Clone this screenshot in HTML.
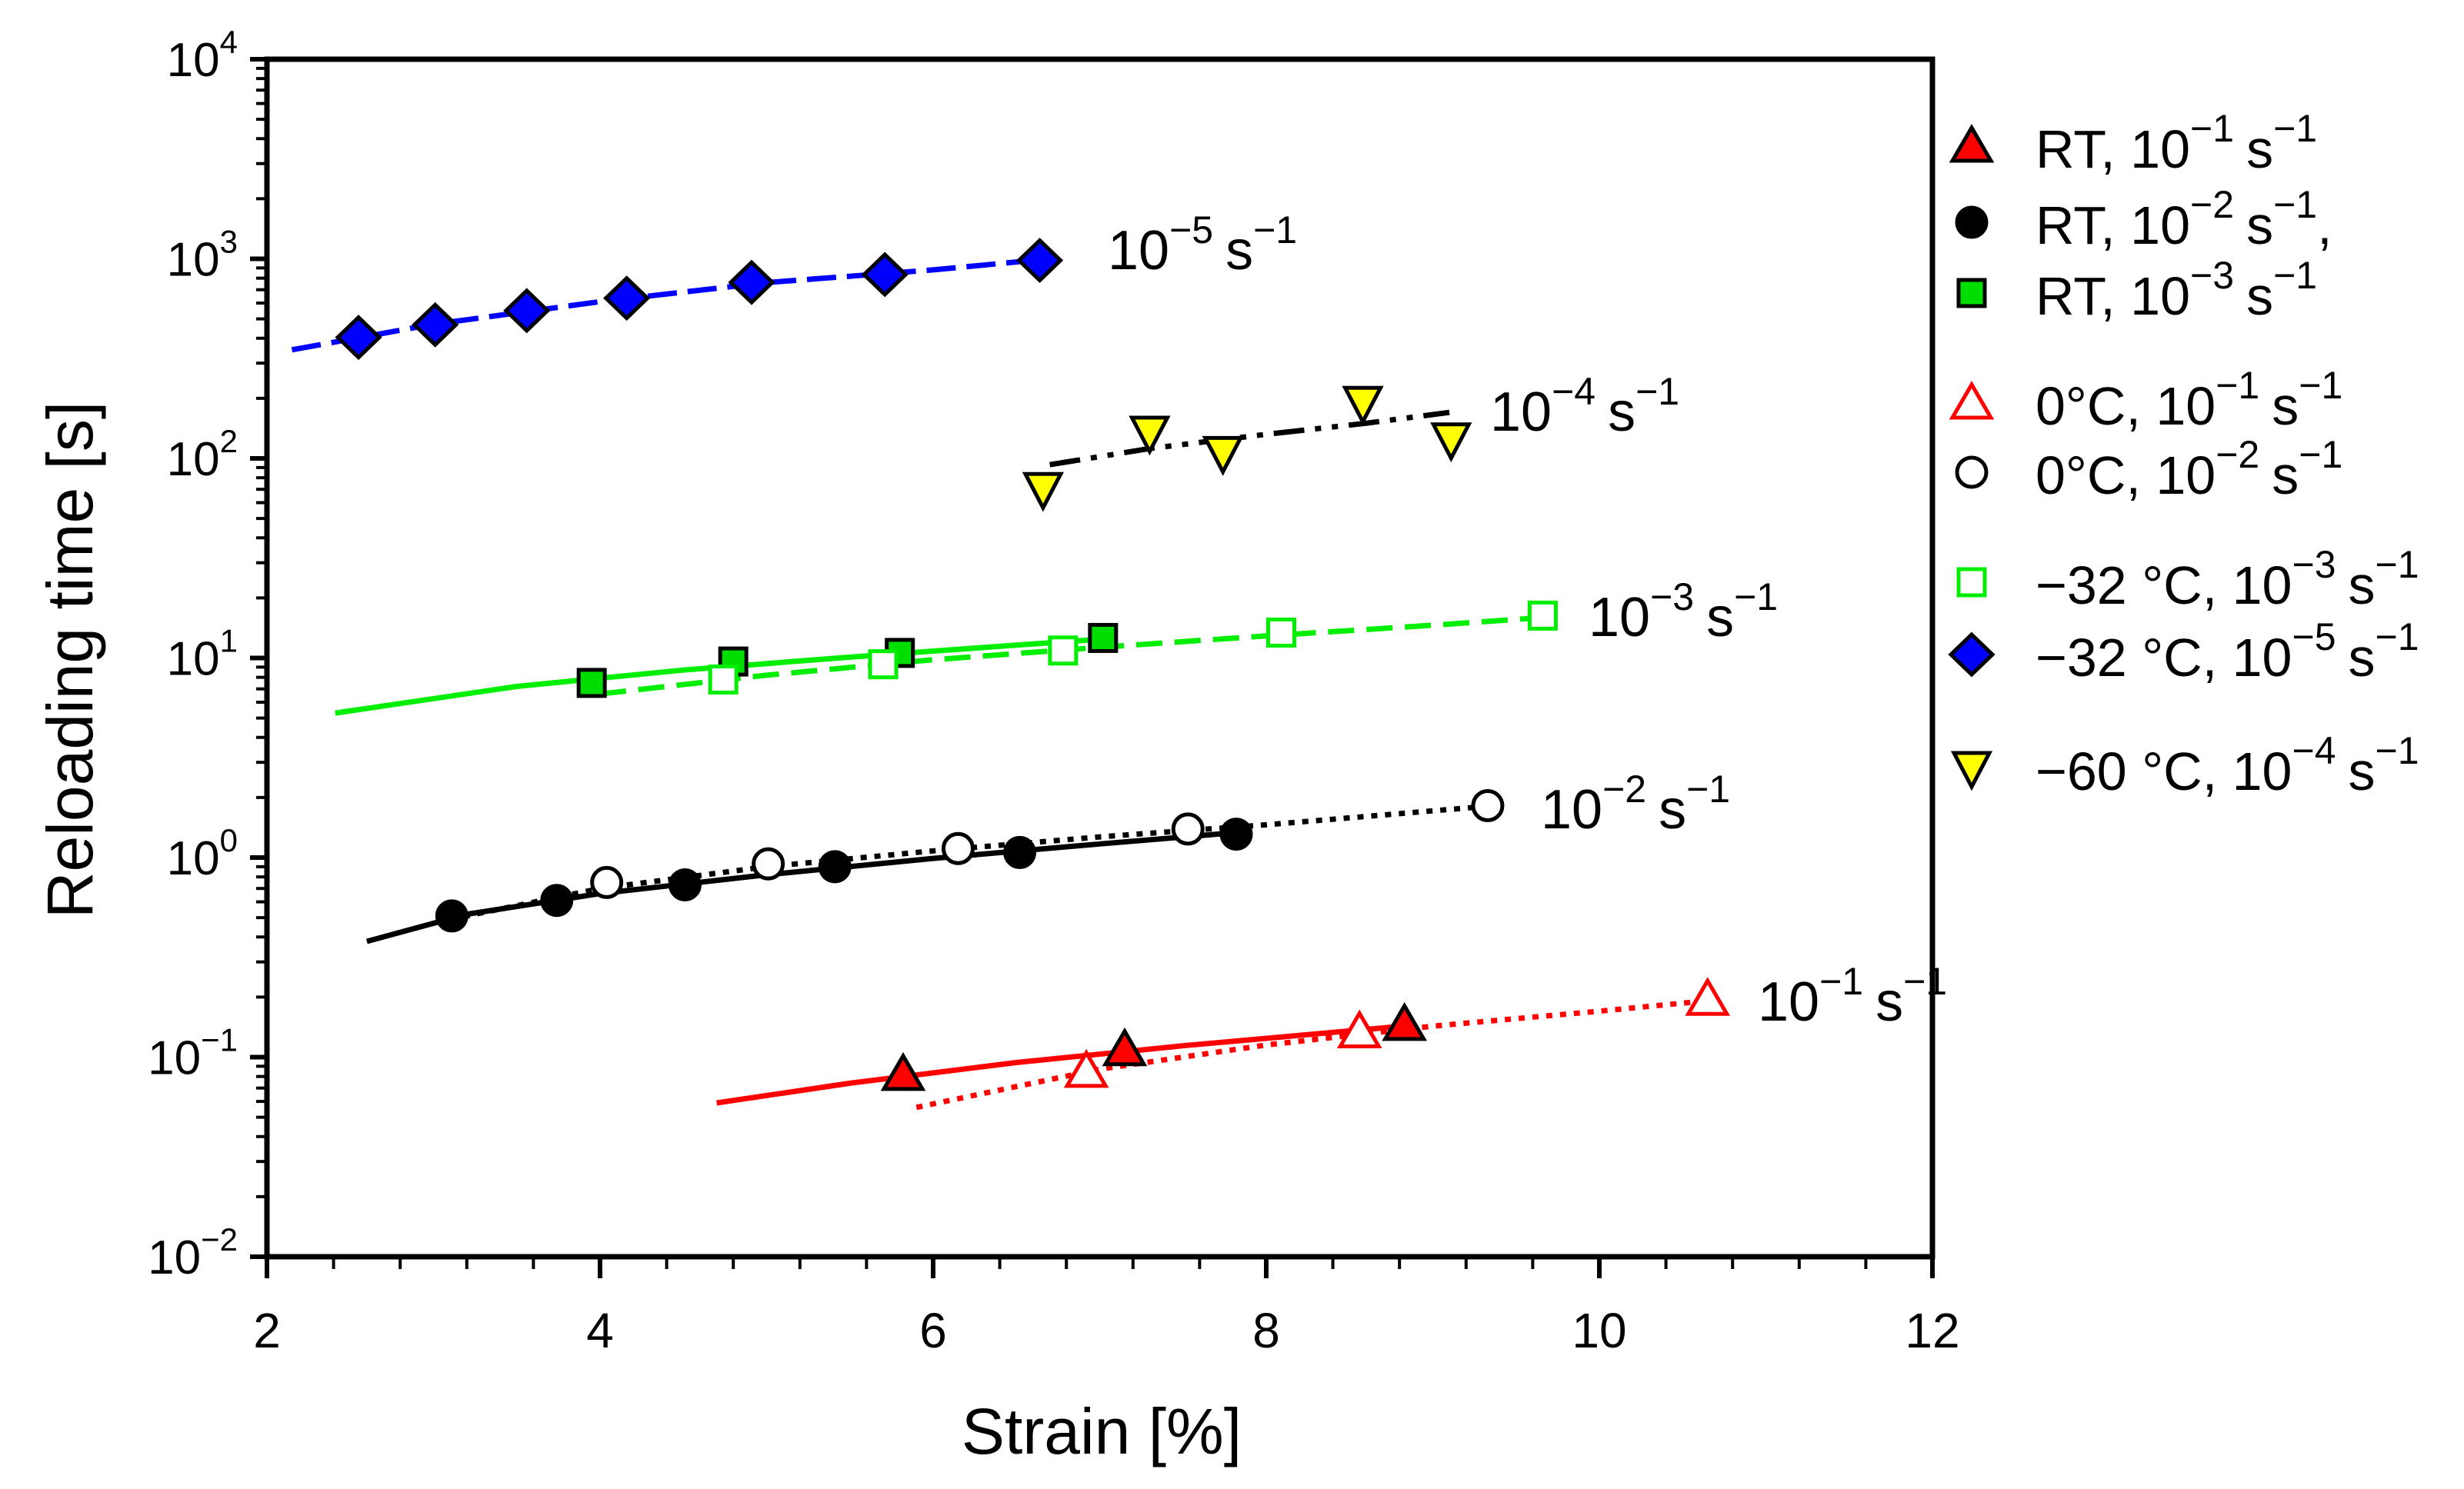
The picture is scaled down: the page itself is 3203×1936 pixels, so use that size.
<!DOCTYPE html>
<html><head><meta charset="utf-8"><style>
html,body{margin:0;padding:0;background:#fff;}
svg{display:block;font-family:"Liberation Sans",Arial,sans-serif;}
</style></head><body>
<svg id="chart" width="3203" height="1936" viewBox="0 0 3203 1936" xmlns="http://www.w3.org/2000/svg"></svg>
<script>
// ---- data ----
const xTicks = [2, 4, 6, 8, 10, 12];
const yDecades = [-2, -1, 0, 1, 2, 3, 4];

const blueX = [2.55, 3.01, 3.56, 4.16, 4.91, 5.71, 6.64];
const blueY = [404, 467, 550, 635, 762, 834, 982];
const yellowX = [6.66, 7.30, 7.74, 8.58, 9.11];
const yellowY = [70, 134, 106, 189, 124];
const greenFX = [3.95, 4.80, 5.80, 7.02];
const greenFY = [7.5, 9.6, 10.6, 12.6];
const greenOX = [4.74, 5.70, 6.78, 8.09, 9.66];
const greenOY = [7.8, 9.3, 10.9, 13.4, 16.3];
const blackFX = [3.11, 3.74, 4.51, 5.41, 6.52, 7.82];
const blackFY = [0.51, 0.61, 0.73, 0.90, 1.06, 1.31];
const blackOX = [4.04, 5.01, 6.15, 7.53, 9.33];
const blackOY = [0.75, 0.93, 1.11, 1.39, 1.82];
const redFX = [5.82, 7.15, 8.83];
const redFY = [0.082, 0.109, 0.146];
const redOX = [6.92, 8.56, 10.65];
const redOY = [0.085, 0.134, 0.195];

// fit curves
const fitBlueX = [2.15, 3.0, 4.0, 5.0, 6.0, 6.7];
const fitBlueY = [350, 470, 610, 760, 880, 1000];
const fitYellowX = [6.7, 7.3, 8.0, 8.6, 9.1];
const fitYellowY = [93, 112, 132, 150, 170];
const fitGreenSX = [2.41, 3.5, 4.5, 5.5, 6.5, 7.0];
const fitGreenSY = [5.3, 7.2, 8.7, 10.1, 11.6, 12.4];
const fitGreenDX = [4.0, 5.0, 6.0, 7.0, 8.0, 9.0, 9.6];
const fitGreenDY = [6.6, 8.2, 9.8, 11.3, 12.9, 14.6, 15.8];
const fitBlackSX = [2.6, 3.2, 4.0, 5.0, 6.0, 7.0, 7.8];
const fitBlackSY = [0.38, 0.52, 0.66, 0.82, 0.99, 1.17, 1.33];
const fitBlackDX = [3.1, 4.0, 5.0, 6.0, 7.0, 8.0, 9.3];
const fitBlackDY = [0.49, 0.70, 0.90, 1.08, 1.27, 1.46, 1.80];
const fitRedSX = [4.7, 5.5, 6.5, 7.5, 8.9];
const fitRedSY = [0.059, 0.074, 0.094, 0.114, 0.145];
const fitRedDX = [5.9, 7.0, 8.0, 9.0, 10.0, 10.6];
const fitRedDY = [0.056, 0.087, 0.115, 0.143, 0.17, 0.19];

// ---- geometry ----
const L = 347, R = 2512, T = 77, B = 1634;
const xMin = 2, xMax = 12, yMinLog = -2, yMaxLog = 4;
const sx = v => L + (v - xMin) / (xMax - xMin) * (R - L);
const sy = v => B - (Math.log10(v) - yMinLog) / (yMaxLog - yMinLog) * (B - T);

const NS = "http://www.w3.org/2000/svg";
const svg = document.getElementById("chart");
function mk(tag, attrs, parent) {
  const e = document.createElementNS(NS, tag);
  for (const k in attrs) e.setAttribute(k, attrs[k]);
  (parent || svg).appendChild(e);
  return e;
}

// axes frame
const frame = mk("rect", {x: L, y: T, width: R - L, height: B - T, fill: "none", stroke: "#000", "stroke-width": 7});



// x ticks
const xAxisG = mk("g", {});


for (let v = 2; v <= 12.001; v += 0.4) {
  const major = Math.abs(v - Math.round(v / 2) * 2) < 1e-6;
  mk("line", {x1: sx(v), x2: sx(v), y1: B, y2: B + (major ? 28 : 16), stroke: "#000", "stroke-width": major ? 6 : 4}, xAxisG);
}
xTicks.forEach(v => {
  const t = mk("text", {x: sx(v), y: B + 118, "font-size": 64, "text-anchor": "middle"}, xAxisG);
  t.textContent = v;
  
  
});

// y ticks
const yAxisG = mk("g", {});


yDecades.forEach(d => {
  const y = sy(Math.pow(10, d));
  mk("line", {x1: L - 22, x2: L, y1: y, y2: y, stroke: "#000", "stroke-width": 6}, yAxisG);
  if (d < 4) for (let m = 2; m <= 9; m++) {
    const ym = sy(m * Math.pow(10, d));
    mk("line", {x1: L - 14, x2: L, y1: ym, y2: ym, stroke: "#000", "stroke-width": 4}, yAxisG);
  }
  const t = mk("text", {x: L - 38, y: y + 22, "font-size": 62, "text-anchor": "end"}, yAxisG);
  
  
  const a = mk("tspan", {}, t); a.textContent = "10";
  const b = mk("tspan", {dy: -30, "font-size": 42}, t); b.textContent = d < 0 ? "\u2212" + (-d) : String(d);
});

// axis titles
const xt = mk("text", {x: 1432, y: 1890, "font-size": 84, "text-anchor": "middle"});
xt.textContent = "Strain [%]";


const yt = mk("text", {x: 0, y: 0, "font-size": 84, "text-anchor": "middle", transform: "translate(120,858) rotate(-90)"});
yt.textContent = "Reloading time [s]";



// lines
function curve(xs, ys, color, dash, name) {
  const d = xs.map((x, i) => (i ? "L" : "M") + sx(x).toFixed(1) + "," + sy(ys[i]).toFixed(1)).join(" ");
  const p = mk("path", {d: d, fill: "none", stroke: color, "stroke-width": 7, "stroke-dasharray": dash || "none"});
  
  
}
curve(fitBlueX, fitBlueY, "#0000ff", "38,14", "fit-line-minus32c-1e-5");
curve(fitYellowX, fitYellowY, "#000", "40,14,8,14,8,14", "fit-line-minus60c-1e-4");
curve(fitGreenSX, fitGreenSY, "#00ee00", "none", "fit-line-rt-1e-3");
curve(fitGreenDX, fitGreenDY, "#00ee00", "34,16", "fit-line-minus32c-1e-3");
curve(fitBlackSX, fitBlackSY, "#000", "none", "fit-line-rt-1e-2");
curve(fitBlackDX, fitBlackDY, "#000", "8,10", "fit-line-0c-1e-2");
curve(fitRedSX, fitRedSY, "#ff0000", "none", "fit-line-rt-1e-1");
curve(fitRedDX, fitRedDY, "#ff0000", "8,10", "fit-line-0c-1e-1");

// markers
function marker(kind, cx, cy, fill, stroke, g) {
  if (kind === "tri") return mk("polygon", {points: `${cx},${cy-24} ${cx+25},${cy+19} ${cx-25},${cy+19}`, fill, stroke, "stroke-width": 5}, g);
  if (kind === "itri") return mk("polygon", {points: `${cx-23},${cy-20} ${cx+23},${cy-20} ${cx},${cy+24}`, fill, stroke, "stroke-width": 5}, g);
  if (kind === "circ") return mk("circle", {cx, cy, r: 19, fill, stroke, "stroke-width": 5}, g);
  if (kind === "sq") return mk("rect", {x: cx - 17, y: cy - 17, width: 34, height: 34, fill, stroke, "stroke-width": 5}, g);
  if (kind === "dia") return mk("polygon", {points: `${cx},${cy-26} ${cx+27},${cy} ${cx},${cy+26} ${cx-27},${cy}`, fill, stroke, "stroke-width": 5}, g);
}
function series(xs, ys, kind, fill, stroke, name) {
  const g = mk("g", {});
  
  
  xs.forEach((x, i) => {
    const m = marker(kind, sx(x), sy(ys[i]), fill, stroke, g);
    
    
  });
}
series(blueX, blueY, "dia", "#0000ff", "#000", "series-minus32c-1e-5");
series(yellowX, yellowY, "itri", "#ffff00", "#000", "series-minus60c-1e-4");
series(greenFX, greenFY, "sq", "#00dd00", "#000", "series-rt-1e-3");
series(greenOX, greenOY, "sq", "#fff", "#00ee00", "series-minus32c-1e-3");
series(blackFX, blackFY, "circ", "#000", "#000", "series-rt-1e-2");
series(blackOX, blackOY, "circ", "#fff", "#000", "series-0c-1e-2");
series(redFX, redFY, "tri", "#ff0000", "#000", "series-rt-1e-1");
series(redOX, redOY, "tri", "#fff", "#ff0000", "series-0c-1e-1");

// rate annotations
function rateLabel(x, y, exp, name) {
  const t = mk("text", {x, y, "font-size": 72});
  
  
  const a = mk("tspan", {}, t); a.textContent = "10";
  const b = mk("tspan", {dy: -34, "font-size": 50}, t); b.textContent = "\u2212" + exp;
  const c = mk("tspan", {dy: 34, dx: 16}, t); c.textContent = "s";
  const d = mk("tspan", {dy: -34, "font-size": 50}, t); d.textContent = "\u22121";
}
rateLabel(1440, 350, 5, "label-rate-1e-5");
rateLabel(1937, 560, 4, "label-rate-1e-4");
rateLabel(2065, 827, 3, "label-rate-1e-3");
rateLabel(2003, 1077, 2, "label-rate-1e-2");
rateLabel(2285, 1327, 1, "label-rate-1e-1");

// legend
const legend = [
  ["tri", "#ff0000", "#000", 194, "RT, 10", "\u22121", ""],
  ["circ", "#000", "#000", 293, "RT, 10", "\u22122", ","],
  ["sq", "#00dd00", "#000", 385, "RT, 10", "\u22123", ""],
  ["tri", "#fff", "#ff0000", 528, "0\u00B0C, 10", "\u22121", ""],
  ["circ", "#fff", "#000", 618, "0\u00B0C, 10", "\u22122", ""],
  ["sq", "#fff", "#00ee00", 761, "\u221232 \u00B0C, 10", "\u22123", ""],
  ["dia", "#0000ff", "#000", 855, "\u221232 \u00B0C, 10", "\u22125", ""],
  ["itri", "#ffff00", "#000", 1003, "\u221260 \u00B0C, 10", "\u22124", ""]
];
const lg = mk("g", {});


legend.forEach(e => {
  const g = mk("g", {}, lg);
  
  
  marker(e[0], 2563, e[3] - 4, e[1], e[2], g);
  const t = mk("text", {x: 2646, y: e[3] + 24, "font-size": 70}, g);
  const a = mk("tspan", {}, t); a.textContent = e[4];
  const b = mk("tspan", {dy: -34, "font-size": 50}, t); b.textContent = e[5];
  const c = mk("tspan", {dy: 34, dx: 16}, t); c.textContent = "s";
  const d = mk("tspan", {dy: -34, "font-size": 50}, t); d.textContent = "\u22121";
  if (e[6]) { const f = mk("tspan", {dy: 34}, t); f.textContent = e[6]; }
});
</script>
</body></html>
